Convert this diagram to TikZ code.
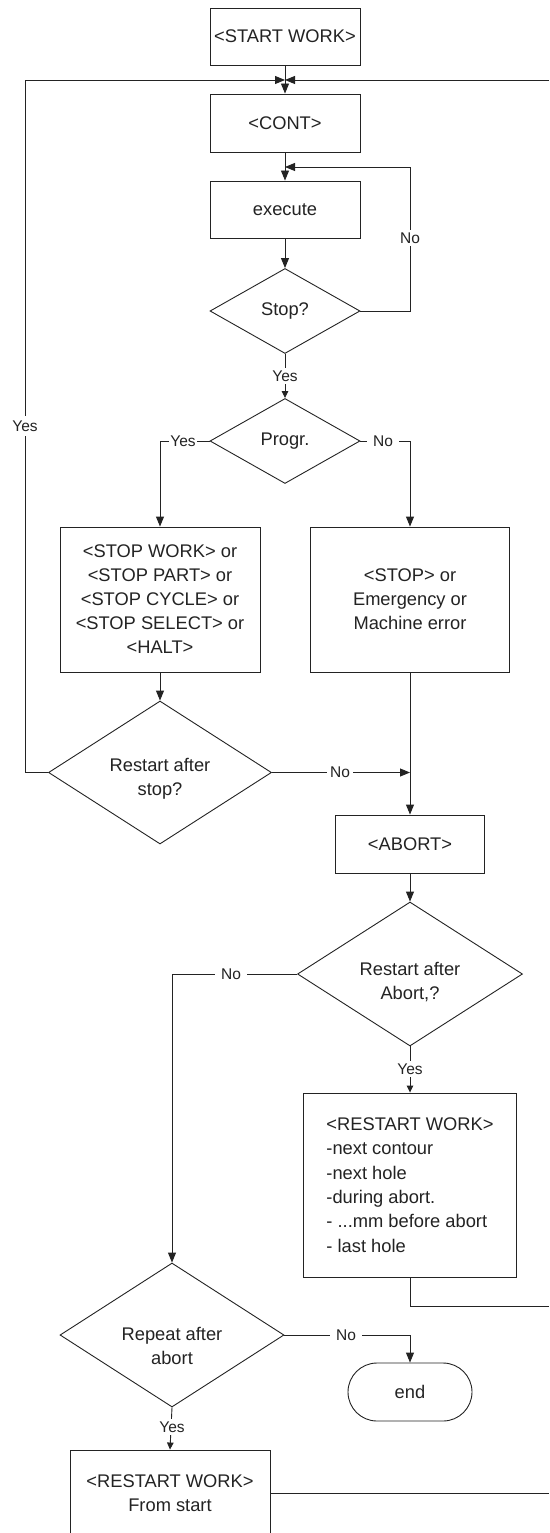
\documentclass[tikz,border=0pt]{standalone}
\usepackage{fontspec}
\setmainfont{Liberation Sans}
\usetikzlibrary{arrows.meta,shapes.geometric,shapes.misc}
\definecolor{ink}{RGB}{35,35,35}
\begin{document}
\begin{tikzpicture}[x=1pt,y=-1pt,
  every node/.style={text=ink, font=\fontsize{18.3}{24}\selectfont},
  box/.style={draw=ink, line width=0.9pt, rectangle, inner sep=0pt, align=center, fill=white},
  dia/.style={draw=ink, line width=0.9pt, diamond, inner sep=0pt, fill=white},
  txt/.style={align=center, inner sep=0pt},
  term/.style={draw=ink, line width=0.9pt, rounded rectangle, minimum width=124pt, minimum height=58pt, inner sep=0pt},
  lbl/.style={fill=white, inner xsep=3.5pt, inner ysep=3pt, font=\fontsize{15.5}{18}\selectfont},
  conn/.style={draw=ink, line width=0.9pt},
  arr/.style={conn, -{Triangle[length=10pt,width=8pt]}},
  sarr/.style={conn, -{Triangle[length=7pt,width=6.5pt]}},
]
\useasboundingbox (0,0) rectangle (549,1533);

% ---- process boxes and decisions
\node[box, minimum width=150pt, minimum height=57pt] (start) at (285,36.5) {<START WORK>};
\node[box, minimum width=150pt, minimum height=58pt] (cont) at (285,123) {<CONT>};
\node[box, minimum width=150pt, minimum height=57pt] (exec) at (285,209.5) {execute};
\node[dia, minimum width=150pt, minimum height=85pt] (stop) at (285,311) {Stop?};
\node[dia, minimum width=150pt, minimum height=85pt] (progr) at (285,441) {Progr.};
\node[box, minimum width=200pt, minimum height=145pt] (stopbox) at (160,599.5)
  {<STOP WORK> or\\<STOP PART> or\\<STOP CYCLE> or\\<STOP SELECT> or\\<HALT>};
\node[box, minimum width=199pt, minimum height=145pt] (errbox) at (410,599.5)
  {<STOP> or\\Emergency or\\Machine error};
\node[dia, minimum width=223pt, minimum height=143pt] (rstop) at (160,772.5) {};
\node[txt] (rstopt) at (160,779) {Restart after\\stop?};
\node[box, minimum width=149pt, minimum height=58pt] (abort) at (410,844) {<ABORT>};
\node[dia, minimum width=225pt, minimum height=144pt] (rabort) at (410,974) {};
\node[txt] (rabortt) at (410,982) {Restart after\\Abort,?};
\node[box, align=left, minimum width=213pt, minimum height=184pt,
      font=\fontsize{18.3}{24.4}\selectfont] (rw) at (410,1185)
  {<RESTART WORK>\\-next contour\\-next hole\\-during abort.\\- ...mm before abort\\- last hole};
\node[dia, minimum width=224pt, minimum height=144pt] (rep) at (172,1335) {};
\node[txt] (rept) at (172,1346) {Repeat after\\abort};
\node[term] (end) at (410,1392) {end};
\node[box, minimum width=200pt, minimum height=87pt] (rfs) at (170,1493.5)
  {<RESTART WORK>\\From start};

% ---- bend points
\coordinate (jn) at (285,80);
\coordinate (mg) at (285,167);
\coordinate (nc) at (410,167);
\coordinate (lt) at (25,80);
\coordinate (lb) at (25,772.5);
\coordinate (rt) at (549,80);
\coordinate (rr) at (549,1306);
\coordinate (rb) at (549,1493.5);

% ---- connectors
\draw[conn] (start.south) -- (jn);
\draw[arr] (jn) -- (cont.north);
\draw[arr] (rstop.west) -- (lb) -- (lt) -- (jn);
\draw[arr] (rt) -- (jn);
\draw[conn] (cont.south) -- (mg);
\draw[arr] (mg) -- (exec.north);
\draw[arr] (exec.south) -- (stop.north);
\draw[arr] (stop.east) -| (nc) -- (mg);
\draw[sarr] (stop.south) -- (progr.north);
\draw[arr] (progr.west) -| (stopbox.north);
\draw[arr] (progr.east) -| (errbox.north);
\draw[arr] (stopbox.south) -- (rstop.north);
\draw[arr] (errbox.south) -- (abort.north);
\draw[arr] (rstop.east) -- (errbox.south |- rstop.east);
\draw[arr] (abort.south) -- (rabort.north);
\draw[sarr] (rabort.south) -- (rw.north);
\draw[arr] (rabort.west) -| (rep.north);
\draw[conn] (rw.south) |- (rr);
\draw[arr] (rep.east) -| (end.north);
\draw[sarr] (rep.south) -- (rfs.north);
\draw[conn] (rfs.east) -- (rb);

% ---- branch labels
\node[lbl] (lno1) at (410,238) {No};
\node[lbl] (lyes1) at (285,376) {Yes};
\node[lbl, inner xsep=1pt] (lyes2) at (183,441) {Yes};
\node[lbl, inner xsep=6pt] (lno2) at (383,441) {No};
\node[lbl, inner ysep=5pt] (lyes3) at (25,426) {Yes};
\node[lbl] (lno3) at (340,772.5) {No};
\node[lbl, inner xsep=6pt] (lno4) at (231,974) {No};
\node[lbl] (lyes4) at (410,1069) {Yes};
\node[lbl, inner xsep=6pt] (lno5) at (346,1335) {No};
\node[lbl] (lyes5) at (172,1427) {Yes};
\end{tikzpicture}
\end{document}
